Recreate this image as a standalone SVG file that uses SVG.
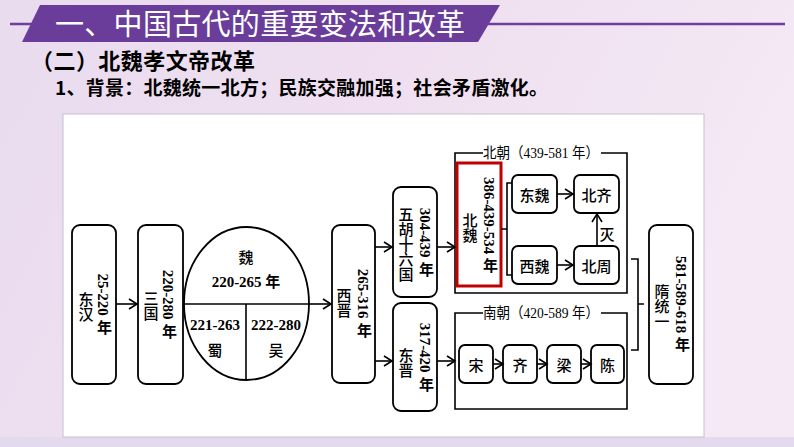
<svg xmlns="http://www.w3.org/2000/svg" width="794" height="447" viewBox="0 0 794 447">
<defs>
<linearGradient id="bg" x1="0" y1="0" x2="1" y2="0.3">
<stop offset="0" stop-color="#e9dcef"/>
<stop offset="0.5" stop-color="#efdff0"/>
<stop offset="1" stop-color="#f4e9f4"/>
</linearGradient>
<marker id="arr" markerUnits="userSpaceOnUse" markerWidth="12" markerHeight="14" refX="10" refY="6" orient="auto">
<path d="M2,1 L10,6 L2,11" fill="none" stroke="#000" stroke-width="1.6"/>
</marker>
<style>
.box{fill:#fff;stroke:#000;stroke-width:1.8}
.ln{fill:none;stroke:#000;stroke-width:1.6}
.num{font-family:"Liberation Serif","Noto Sans CJK SC",serif;font-weight:bold;font-size:15px;fill:#000}
.cjk{font-family:"Noto Sans CJK SC",sans-serif;font-size:15px;font-weight:500;fill:#000}
.v{writing-mode:vertical-rl;text-anchor:middle}
.h{text-anchor:middle;dominant-baseline:central}
.lab{font-family:"Liberation Serif","Noto Sans CJK SC",serif;font-size:15px;fill:#000}
</style>
</defs>
<rect width="794" height="447" fill="url(#bg)"/>
<rect x="0" y="437" width="794" height="10" fill="#e3daee"/>
<!-- title -->
<g id="title">
<line x1="10" y1="24" x2="35" y2="24" stroke="#6e3f9e" stroke-width="2.5"/>
<line x1="486" y1="24" x2="785" y2="24" stroke="#6e3f9e" stroke-width="2.5"/>
<polygon points="40,5 500,5 478,42 22,42" fill="#6b3d9a"/>
<text x="55" y="35" font-family="Noto Sans CJK SC,sans-serif" font-size="29" fill="#fff" textLength="410">一、中国古代的重要变法和改革</text>
<text x="31" y="69" font-family="Noto Sans CJK SC,sans-serif" font-size="22" font-weight="bold" fill="#000" textLength="224">（二）北魏孝文帝改革</text>
<text x="55" y="95" font-family="Noto Sans CJK SC,sans-serif" font-size="19" font-weight="bold" fill="#000" textLength="493">1、背景：北魏统一北方；民族交融加强；社会矛盾激化。</text>
</g>
<rect x="63" y="114" width="641" height="323" fill="#fff" stroke="#c4c0d0" stroke-width="1"/>
<!-- nodes -->
<g id="donghan">
<rect class="box" x="72" y="225" width="44" height="159" rx="8"/>
<text class="num v" x="103" y="304">25-220  年</text>
<text class="cjk v" x="86" y="307">东汉</text>
</g>
<g id="sanguo">
<rect class="box" x="138" y="225" width="45" height="159" rx="8"/>
<text class="num v" x="168" y="304">220-280  年</text>
<text class="cjk v" x="151" y="306">三国</text>
</g>
<g id="wei-shu-wu">
<ellipse cx="246.5" cy="303.5" rx="62.5" ry="76.5" fill="#fff" stroke="#000" stroke-width="1.8"/>
<line class="ln" x1="184" y1="304" x2="309" y2="304"/>
<line class="ln" x1="246" y1="304" x2="246" y2="380"/>
<text class="cjk h" x="246" y="256">魏</text>
<text class="num h" x="246" y="282">220-265 年</text>
<text class="num h" x="215" y="325">221-263</text>
<text class="cjk h" x="215" y="349">蜀</text>
<text class="num h" x="276" y="325">222-280</text>
<text class="cjk h" x="276" y="349">吴</text>
</g>
<g id="xijin">
<rect class="box" x="332" y="225" width="43" height="158" rx="8"/>
<text class="num v" x="363" y="303">265-316  年</text>
<text class="cjk v" x="344" y="303">西晋</text>
</g>
<g id="wuhu">
<rect class="box" x="393" y="187" width="44" height="110" rx="8"/>
<text class="num v" x="425" y="242">304-439  年</text>
<text class="cjk v" x="406" y="244">五胡十六国</text>
</g>
<g id="dongjin">
<rect class="box" x="393" y="303" width="44" height="108" rx="8"/>
<text class="num v" x="425" y="357">317-420  年</text>
<text class="cjk v" x="406" y="363">东晋</text>
</g>
<g id="beichao">
<path class="ln" d="M483,153 H455 V293 H627 V153 H601" stroke-width="1.8"/>
<text class="lab h" x="541" y="153" textLength="116" lengthAdjust="spacingAndGlyphs">北朝（439-581 年）</text>
</g>
<g id="beiwei">
<rect x="457" y="163" width="44" height="123" fill="#fff" stroke="#c00000" stroke-width="3"/>
<text class="num v" x="489" y="225">386-439-534 年</text>
<text class="cjk v" x="470" y="228">北魏</text>
</g>
<g id="dongwei">
<rect class="box" x="512" y="175" width="45" height="38" rx="6"/>
<text class="cjk h" x="534.5" y="194">东魏</text>
</g>
<g id="beiqi">
<rect class="box" x="574" y="175" width="45" height="38" rx="6"/>
<text class="cjk h" x="596.5" y="194">北齐</text>
</g>
<g id="xiwei">
<rect class="box" x="512" y="246" width="45" height="38" rx="6"/>
<text class="cjk h" x="534.5" y="265">西魏</text>
</g>
<g id="beizhou">
<rect class="box" x="574" y="246" width="45" height="38" rx="6"/>
<text class="cjk h" x="596.5" y="265">北周</text>
</g>
<g id="nanchao">
<path class="ln" d="M483,313 H455 V409 H627 V313 H601" stroke-width="1.8"/>
<text class="lab h" x="541" y="313" textLength="116" lengthAdjust="spacingAndGlyphs">南朝（420-589 年）</text>
</g>
<g id="song">
<rect class="box" x="459" y="345" width="34" height="38" rx="6"/>
<text class="cjk h" x="476" y="364">宋</text>
</g>
<g id="qi">
<rect class="box" x="503" y="345" width="34" height="38" rx="6"/>
<text class="cjk h" x="520" y="364">齐</text>
</g>
<g id="liang">
<rect class="box" x="547" y="345" width="34" height="38" rx="6"/>
<text class="cjk h" x="564" y="364">梁</text>
</g>
<g id="chen">
<rect class="box" x="591" y="345" width="33" height="38" rx="6"/>
<text class="cjk h" x="607.5" y="364">陈</text>
</g>
<g id="sui">
<rect class="box" x="649" y="225" width="44" height="159" rx="8"/>
<text class="num v" x="681" y="304">581-589-618  年</text>
<text class="cjk v" x="662" y="306">隋统一</text>
</g>
<!-- connectors -->
<g id="connectors">
<line class="ln" x1="116" y1="304" x2="137" y2="304" marker-end="url(#arr)"/>
<line class="ln" x1="309" y1="304" x2="331" y2="304" marker-end="url(#arr)"/>
<line class="ln" x1="375" y1="247" x2="392" y2="247" marker-end="url(#arr)"/>
<line class="ln" x1="375" y1="361" x2="392" y2="361" marker-end="url(#arr)"/>
<line class="ln" x1="437" y1="247" x2="455" y2="247" marker-end="url(#arr)"/>
<line class="ln" x1="437" y1="361" x2="455" y2="361" marker-end="url(#arr)"/>
<line class="ln" x1="557" y1="194" x2="573" y2="194" marker-end="url(#arr)"/>
<line class="ln" x1="557" y1="265" x2="573" y2="265" marker-end="url(#arr)"/>
<line class="ln" x1="597" y1="246" x2="597" y2="214" marker-end="url(#arr)"/>
<text class="cjk h" x="607" y="233" font-size="14">灭</text>
<line class="ln" x1="493" y1="364" x2="503" y2="364" marker-end="url(#arr)"/>
<line class="ln" x1="537" y1="364" x2="547" y2="364" marker-end="url(#arr)"/>
<line class="ln" x1="581" y1="364" x2="591" y2="364" marker-end="url(#arr)"/>
<path class="ln" d="M501,229 H507 M512,183 H507 V275 H512"/>
<path class="ln" d="M631,259 H638 V350 H631 M638,304 H644"/>
</g>
</svg>
